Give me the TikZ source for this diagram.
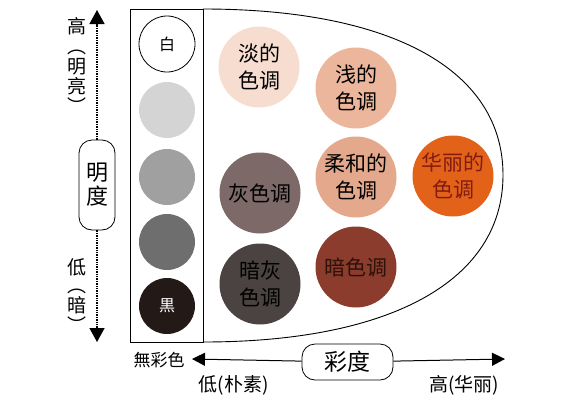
\documentclass[tikz,border=0pt]{standalone}
\usepackage{fontspec}
\setmainfont{Noto Sans CJK SC}
\usetikzlibrary{positioning,arrows.meta}
\definecolor{grayLight}{RGB}{212,212,212}
\definecolor{grayMid}{RGB}{160,160,160}
\definecolor{grayDark}{RGB}{110,110,110}
\definecolor{blackTone}{RGB}{35,26,24}
\definecolor{paleTone}{RGB}{246,221,208}
\definecolor{lightTone}{RGB}{236,182,156}
\definecolor{softTone}{RGB}{228,168,140}
\definecolor{vividTone}{RGB}{226,98,26}
\definecolor{grayishTone}{RGB}{124,105,104}
\definecolor{darkGrayishTone}{RGB}{74,67,65}
\definecolor{darkTone}{RGB}{139,60,44}
\definecolor{vividText}{RGB}{130,28,16}
\definecolor{darkText}{RGB}{45,18,10}
\tikzstyle{chart} = [x = 1pt, y = -1pt]
\tikzstyle{frameLine} = [color=black, line width=.9pt]
\tikzstyle{grayDot} = [circle, minimum size=56pt, inner sep=0pt, font=\fontsize{16}{16}\selectfont]
\tikzstyle{toneDot} = [circle, minimum size=81pt, inner sep=0pt, align=center, font=\fontsize{21}{27}\selectfont]
\tikzstyle{axisText} = [inner sep=0pt, align=center, font=\fontsize{19}{20}\selectfont]
\tikzstyle{axisBox} = [draw, line width=.8pt, rounded corners=13pt, align=center, inner sep=0pt]
\tikzstyle{valueAxis} = [line width=1.4pt, densely dotted, -{Triangle[width=15pt,length=14pt]}]
\tikzstyle{chromaAxis} = [line width=1pt, -{Triangle[width=13pt,length=13pt]}]
\newcommand{\toneDot}[5]{\node [toneDot, fill=#3, text=#4] (#1) at (#2) {#5};}

\begin{document}
\begin{tikzpicture}[chart]
        \useasboundingbox (0,0) rectangle (567,400);

        % achromatic column and tone area
        \draw [frameLine] (130,9) rectangle (203,342);
        \draw [frameLine] (203,9) .. controls (392,9) and (503,70) .. (503,175)
          .. controls (503,280) and (392,342) .. (203,342);

        \node [grayDot, draw, line width=.8pt, fill=white] (gray1) at (167,44) {白};
        \foreach \i/\y/\col in {2/110/grayLight, 3/177/grayMid, 4/242/grayDark} {
          \node [grayDot, fill=\col] (gray\i) at (167,\y) {};
        }
        \node [grayDot, fill=blackTone, text=white] (gray5) at (167,306) {黒};

        % tones
        \toneDot{pale}{259,67}{paleTone}{black}{淡的\\色调}
        \toneDot{light}{356,88}{lightTone}{black}{浅的\\色调}
        \toneDot{soft}{356,177}{softTone}{black}{柔和的\\色调}
        \toneDot{vivid}{453,176}{vividTone}{vividText}{华丽的\\色调}
        \toneDot{grayish}{260,193}{grayishTone}{black}{灰色调}
        \toneDot{darkGrayish}{260,284}{darkGrayishTone}{black}{暗灰\\色调}
        \toneDot{dark}{356,267}{darkTone}{darkText}{暗色调}

        % value axis
        \node [axisBox, minimum width=36pt, minimum height=90pt,
          font=\fontsize{22}{24}\selectfont] (valueBox) at (97,185) {明\\度};
        \coordinate (valueTop) at (97,10);
        \coordinate (valueBottom) at (97,342);
        \draw [valueAxis] (valueBox) -- (valueTop);
        \draw [valueAxis] (valueBox) -- (valueBottom);
        \node [axisText] (valueHigh) at (77,26) {高};
        \node [axisText] (valueHighNote) at (77,82) {︵\\明\\亮\\︶};
        \node [axisText] (valueLow) at (77,267) {低};
        \node [axisText] (valueLowNote) at (77,311) {︵\\暗\\︶};

        % chroma axis
        \node [axisBox, minimum width=91pt, minimum height=36pt,
          font=\fontsize{23}{23}\selectfont] (chromaBox) at (347.5,362) {彩度};
        \coordinate (chromaLow) at (192,359);
        \coordinate (chromaHigh) at (505,359);
        \draw [chromaAxis] (chromaBox) -- (chromaLow);
        \draw [chromaAxis] (chromaBox) -- (chromaHigh);
        \node [axisText, font=\fontsize{17}{17}\selectfont] (achromatic) at (159,360) {無彩色};
        \node [axisText] (chromaLowText) at (233.5,385) {低(朴素)};
        \node [axisText] (chromaHighText) at (464,385) {高(华丽)};
\end{tikzpicture}
\end{document}
